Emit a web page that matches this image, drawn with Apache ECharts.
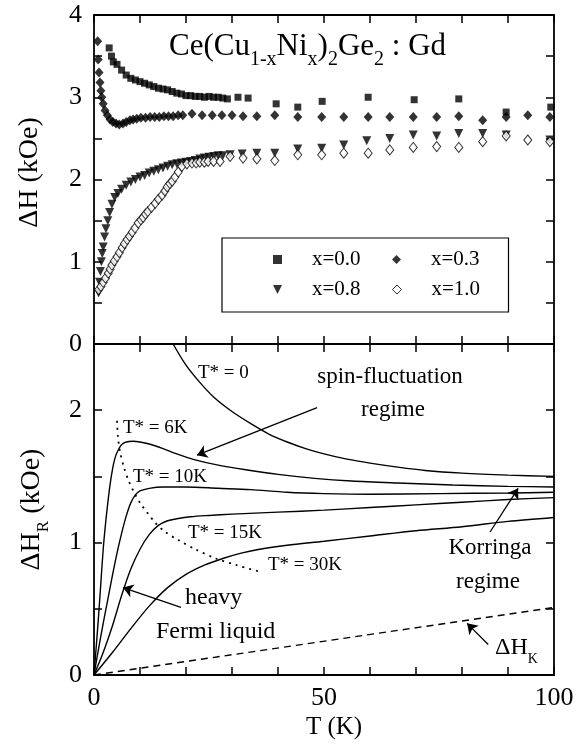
<!DOCTYPE html>
<html><head><meta charset="utf-8">
<script src="https://cdn.jsdelivr.net/npm/echarts@6/dist/echarts.min.js"></script>
<style>html,body{margin:0;padding:0;background:#fff}#c{width:587px;height:751px}</style>
</head><body><div id="c"></div>
<script>
// ---------- data ----------
const seriesNames = ['x=0.0', 'x=0.3', 'x=0.8', 'x=1.0'];

const x00 = [[3.3,3.6],[3.8,3.5],[4.2,3.43],[5.0,3.4],[6.0,3.33],[7.0,3.27],[8.0,3.23],[9.0,3.21],[10.0,3.19],[11.0,3.17],[12.0,3.15],[13.0,3.13],[14.0,3.11],[15.0,3.10],[16.0,3.09],[17.0,3.07],[18.0,3.05],[19.0,3.04],[20.0,3.02],[21.0,3.02],[22.0,3.01],[23.0,3.01],[24.0,3.0],[25.0,3.01],[26.0,3.0],[27.0,3.0],[28.0,2.99],[29.0,2.98],[31.3,3.0],[33.5,2.99],[39.6,2.92],[44.3,2.88],[49.6,2.95],[59.6,3.0],[69.6,2.97],[79.3,2.98],[89.6,2.82],[99.3,2.88]];

const x03 = [[0.8,3.68],[0.9,3.46],[1.1,3.3],[1.3,3.18],[1.5,3.08],[1.7,3.0],[2.0,2.92],[2.4,2.84],[2.9,2.78],[3.5,2.73],[4.1,2.7],[4.8,2.68],[5.5,2.67],[6.3,2.68],[7.0,2.7],[7.8,2.72],[8.5,2.73],[9.3,2.74],[10.2,2.75],[11.2,2.75],[12.2,2.76],[13.2,2.76],[14.2,2.76],[15.2,2.77],[16.2,2.77],[17.2,2.77],[18.3,2.78],[19.3,2.78],[21.3,2.8],[23.5,2.78],[25.7,2.78],[27.8,2.78],[30.0,2.78],[32.4,2.77],[35.4,2.77],[39.3,2.78],[44.3,2.76],[49.5,2.76],[54.3,2.76],[59.6,2.76],[64.3,2.76],[69.4,2.76],[74.5,2.76],[79.3,2.77],[84.5,2.72],[89.6,2.76],[94.3,2.78],[99.1,2.76]];

const x08 = [[1.0,0.62],[1.2,0.75],[1.4,0.88],[1.6,1.0],[1.8,1.1],[2.0,1.18],[2.3,1.3],[2.6,1.4],[3.0,1.5],[3.4,1.6],[3.9,1.7],[4.5,1.78],[5.2,1.83],[6.0,1.88],[7.0,1.93],[8.0,1.97],[9.0,2.0],[10.0,2.03],[11.0,2.05],[12.0,2.08],[13.0,2.1],[14.0,2.12],[15.0,2.14],[16.0,2.16],[17.0,2.18],[18.0,2.19],[19.0,2.2],[20.0,2.21],[21.0,2.22],[22.0,2.23],[23.0,2.25],[24.0,2.26],[25.0,2.27],[26.0,2.28],[27.0,2.29],[28.0,2.29],[29.6,2.3],[32.2,2.31],[35.4,2.32],[39.3,2.32],[44.3,2.37],[49.5,2.38],[54.3,2.42],[59.3,2.47],[64.3,2.5],[69.4,2.54],[74.5,2.53],[79.3,2.56],[84.5,2.56],[89.6,2.54],[99.1,2.48]];

const x10 = [[1.0,0.66],[1.5,0.7],[2.0,0.75],[2.5,0.8],[3.1,0.86],[3.5,0.91],[3.9,0.96],[4.4,1.01],[5.0,1.06],[5.5,1.11],[6.1,1.17],[6.6,1.22],[7.2,1.27],[7.7,1.31],[8.3,1.36],[8.9,1.41],[9.6,1.47],[10.2,1.51],[10.7,1.54],[11.2,1.58],[11.7,1.61],[12.5,1.66],[13.3,1.71],[14.0,1.76],[14.8,1.81],[15.4,1.86],[15.9,1.91],[16.5,1.95],[17.0,1.98],[17.6,2.03],[18.3,2.09],[19.1,2.16],[20.2,2.19],[21.3,2.2],[22.2,2.2],[23.0,2.21],[24.0,2.21],[24.8,2.22],[26.0,2.22],[27.4,2.22],[29.6,2.28],[32.4,2.26],[35.4,2.25],[39.3,2.23],[44.3,2.3],[49.5,2.3],[54.3,2.32],[59.6,2.32],[64.3,2.36],[69.4,2.39],[74.5,2.4],[79.3,2.39],[84.5,2.46],[89.6,2.53],[94.3,2.48],[99.1,2.46]];

const tStar0  = [[17.2,2.5],[20,2.34],[23,2.21],[26,2.1],[30,1.99],[34,1.9],[38,1.82],[42,1.76],[46,1.71],[50,1.67],[55,1.63],[60,1.6],[66,1.57],[72,1.545],[80,1.525],[90,1.51],[100,1.5]];
const tStar6  = [[0,0],[0.5,0.22],[1,0.45],[1.5,0.7],[2,0.95],[2.5,1.14],[3,1.3],[3.5,1.44],[4,1.55],[4.5,1.63],[5,1.68],[6,1.74],[7,1.76],[8.5,1.765],[10,1.76],[12,1.745],[15,1.71],[18,1.67],[22,1.625],[27,1.585],[33,1.55],[40,1.515],[48,1.485],[56,1.465],[66,1.45],[78,1.435],[90,1.425],[100,1.42]];
const tStar10 = [[0,0],[1,0.2],[2,0.39],[3,0.57],[4,0.75],[5,0.92],[6,1.07],[7,1.2],[8,1.3],[9,1.36],[10,1.39],[12,1.41],[15,1.42],[20,1.42],[27,1.41],[34,1.4],[42,1.38],[50,1.37],[60,1.365],[75,1.37],[90,1.375],[100,1.38]];
const tStar15 = [[0,0],[2,0.17],[4,0.37],[6,0.6],[8,0.8],[10,0.95],[12,1.06],[14,1.13],[16,1.165],[18,1.18],[21,1.195],[25,1.205],[30,1.215],[40,1.23],[50,1.245],[60,1.265],[70,1.285],[80,1.305],[90,1.325],[100,1.34]];
const tStar30 = [[0,0],[4,0.17],[8,0.35],[12,0.52],[16,0.66],[20,0.76],[24,0.83],[28,0.88],[32,0.92],[36,0.95],[42,0.98],[50,1.01],[60,1.05],[70,1.09],[80,1.12],[90,1.16],[100,1.19]];
const maxLocus = [[5.0,1.92],[5.2,1.8],[5.7,1.68],[6.5,1.57],[7.5,1.47],[8.7,1.38],[10,1.3],[11.5,1.23],[13.3,1.15],[15.5,1.08],[18.3,1.02],[22,0.95],[26.5,0.88],[31,0.83],[36,0.78]];
const korringa = [[0,0],[100,0.51]];

const arrows = [
  [[48.5,2.02],[22.4,1.66]],
  [[18.9,0.51],[6.3,0.66]],
  [[86.1,1.08],[92.2,1.41]],
  [[85.7,0.23],[81.1,0.39]]
];

const xTickLabels = [0, 50, 100];
const topYLabels = [0, 1, 2, 3, 4];
const botYLabels = [0, 1, 2];

// ---------- chart ----------
const FONT = '"Liberation Serif", "Times New Roman", serif';
const chart = echarts.init(document.getElementById('c'), null, {renderer: 'canvas'});

function xAx(grid, pos, showLabel) {
  return {
    type: 'value', gridIndex: grid, position: pos, min: 0, max: 100, interval: 10,
    axisLine: {show: true, onZero: false, lineStyle: {color: '#000', width: 1.8}},
    axisTick: {show: true, inside: true, length: 8, lineStyle: {color: '#000', width: 1.5}},
    axisLabel: {show: showLabel, margin: 10, fontFamily: FONT, fontSize: 26, color: '#000',
      formatter: v => xTickLabels.indexOf(v) >= 0 ? String(v) : ''},
    splitLine: {show: false}
  };
}
function yAx(grid, pos, max, labels, showLabel) {
  return {
    type: 'value', gridIndex: grid, position: pos, min: 0, max: max, interval: 0.5,
    axisLine: {show: true, onZero: false, lineStyle: {color: '#000', width: 1.8}},
    axisTick: {show: true, inside: true, length: 8, lineStyle: {color: '#000', width: 1.5}},
    axisLabel: {show: showLabel, margin: 12, fontFamily: FONT, fontSize: 26, color: '#000',
      formatter: v => labels.indexOf(v) >= 0 ? String(v) : ''},
    splitLine: {show: false}
  };
}

const xA = [xAx(0, 'bottom', false), xAx(0, 'top', false), xAx(1, 'bottom', true), xAx(1, 'top', false)];
xA[2].name = 'T (K)';
xA[2].nameLocation = 'middle';
xA[2].nameGap = 40;
xA[2].nameTextStyle = {fontFamily: FONT, fontSize: 25, color: '#000', padding: [0, 0, 0, 20]};

const yA = [yAx(0, 'left', 4, topYLabels, true), yAx(0, 'right', 4, topYLabels, false),
            yAx(1, 'left', 2.5, botYLabels, true), yAx(1, 'right', 2.5, botYLabels, false)];
yA[0].name = '\u0394H (kOe)';
yA[0].nameLocation = 'middle';
yA[0].nameGap = 50;
yA[0].nameTextStyle = {fontFamily: FONT, fontSize: 28, color: '#000', padding: [0, 0, 0, 14]};
yA[2].name = '{a|\u0394H}{s|R}{a| (kOe)}';
yA[2].nameLocation = 'middle';
yA[2].nameGap = 42;
yA[2].nameTextStyle = {fontFamily: FONT, fontSize: 28, color: '#000',
  rich: {a: {fontFamily: FONT, fontSize: 28, color: '#000', lineHeight: 40},
         s: {fontFamily: FONT, fontSize: 17, color: '#000', lineHeight: 17, verticalAlign: 'bottom'}}};

const triDown = 'path://M0,0 L10,0 L5,10 Z';

function curve(data, extra) {
  return Object.assign({
    type: 'line', xAxisIndex: 2, yAxisIndex: 2, data: data, showSymbol: false, symbol: 'none',
    smooth: 0.3, clip: true, silent: true,
    lineStyle: {color: '#000', width: 1.4}
  }, extra || {});
}

function txt(x, y, text, size, align) {
  return {type: 'text', x: x, y: y, silent: true,
    style: {text: text, font: size + 'px ' + FONT, fill: '#000',
      textAlign: align || 'left', textVerticalAlign: 'middle', align: align || 'left', verticalAlign: 'middle'}};
}

const option = {
  animation: false,
  backgroundColor: '#fff',
  grid: [
    {left: 94, right: 33, top: 15, height: 329},
    {left: 94, right: 33, top: 344, height: 331}
  ],
  xAxis: xA,
  yAxis: yA,
  legend: {
    left: 222, top: 238, orient: 'horizontal', width: 240,
    padding: [11, 6, 12, 51], itemGap: 9, itemWidth: 9, itemHeight: 9,
    borderColor: '#000', borderWidth: 1.2, backgroundColor: '#fff',
    selectedMode: false,
    formatter: name => '{sp| }{t|' + name + '}',
    textStyle: {fontFamily: FONT, fontSize: 21, color: '#000',
      rich: {sp: {width: 25, fontSize: 21, fontFamily: FONT},
             t: {width: 71, fontSize: 21, fontFamily: FONT, color: '#000', lineHeight: 20}}},
    data: [
      {name: 'x=0.0', icon: 'rect'},
      {name: 'x=0.3', icon: 'diamond'},
      {name: 'x=0.8', icon: triDown},
      {name: 'x=1.0', icon: 'diamond', itemStyle: {color: '#fff', borderColor: '#000', borderWidth: 1}}
    ]
  },
  graphic: [
    {type: 'text', x: 169, y: 23, silent: true,
      style: {text: '{a|Ce(Cu}{s|1-x}{a|Ni}{s|x}{a|)}{s|2}{a|Ge}{s|2}{a| : Gd}',
        rich: {a: {font: '31px ' + FONT, fill: '#000', lineHeight: 47},
               s: {font: '20px ' + FONT, fill: '#000', lineHeight: 20, verticalAlign: 'bottom'}}}},
    txt(198, 373, 'T* = 0', 19),
    txt(390, 377, 'spin-fluctuation', 23, 'center'),
    txt(393, 410, 'regime', 23, 'center'),
    txt(123, 428, 'T* = 6K', 19),
    txt(133, 477, 'T* = 10K', 19),
    txt(188, 533, 'T* = 15K', 19),
    txt(268, 565, 'T* = 30K', 19),
    txt(185, 598, 'heavy', 24),
    txt(156, 632, 'Fermi liquid', 24),
    txt(490, 548, 'Korringa', 23, 'center'),
    txt(488, 582, 'regime', 23, 'center'),
    {type: 'text', x: 495, y: 630, silent: true,
      style: {text: '{a|\u0394H}{s|K}',
        rich: {a: {font: '24px ' + FONT, fill: '#000', lineHeight: 36},
               s: {font: '14px ' + FONT, fill: '#000', lineHeight: 14, verticalAlign: 'bottom'}}}}
  ],
  series: [
    {name: 'x=0.0', type: 'scatter', xAxisIndex: 0, yAxisIndex: 0, data: x00, symbol: 'rect', symbolSize: 7,
      itemStyle: {color: '#000'}, silent: true},
    {name: 'x=0.3', type: 'scatter', xAxisIndex: 0, yAxisIndex: 0, data: x03, symbol: 'diamond', symbolSize: [9, 10],
      itemStyle: {color: '#000'}, silent: true},
    {name: 'x=0.8', type: 'scatter', xAxisIndex: 0, yAxisIndex: 0, data: x08, symbol: triDown, symbolSize: 9,
      itemStyle: {color: '#000'}, silent: true},
    {name: 'x=1.0', type: 'scatter', xAxisIndex: 0, yAxisIndex: 0, data: x10, symbol: 'diamond', symbolSize: [8, 10],
      itemStyle: {color: '#fff', borderColor: '#000', borderWidth: 1}, silent: true},
    curve(tStar0),
    curve(tStar6),
    curve(tStar10),
    curve(tStar15),
    curve(tStar30),
    curve(maxLocus, {lineStyle: {color: '#000', width: 1.8, type: [2, 5]}}),
    curve(korringa, {smooth: false, lineStyle: {color: '#000', width: 1.4, type: [7, 5]}}),
    {type: 'lines', coordinateSystem: 'cartesian2d', xAxisIndex: 2, yAxisIndex: 2, silent: true,
      symbol: ['none', 'arrow'], symbolSize: 10,
      lineStyle: {color: '#000', width: 1.3, opacity: 1, curveness: 0},
      data: arrows.map(c => ({coords: c}))}
  ]
};
chart.setOption(option);
</script>
</body></html>
